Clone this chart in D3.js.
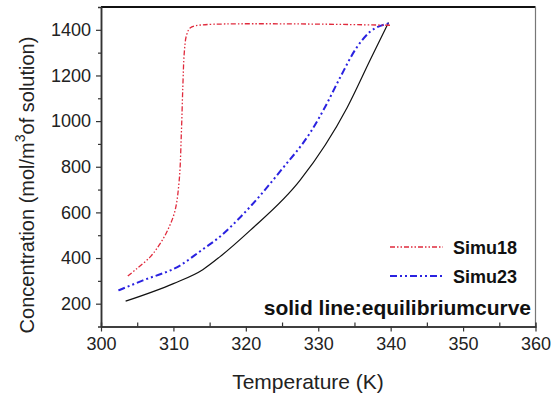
<!DOCTYPE html>
<html>
<head>
<meta charset="utf-8">
<script src="https://cdn.jsdelivr.net/npm/d3@7"></script>
<style>
  body { margin: 0; background: #fff; }
  svg { font-family: "Liberation Sans", Arial, sans-serif; }
</style>
</head>
<body>
<div id="chart-area"></div>
<script>
// values
const simu18 = [
  [303.7, 321], [305, 355], [306.8, 405], [308, 455], [309.1, 515], [310.2, 605],
  [310.8, 741], [311.1, 950], [311.3, 1150], [311.5, 1300], [311.8, 1375],
  [312.3, 1408], [313.5, 1420], [340, 1420]
]
const simu23 = [
  [302.4, 258], [305.8, 302], [311, 369], [313.7, 430], [316.4, 493], [319.3, 581],
  [324.9, 786], [329, 955], [331, 1065], [333, 1190], [335.3, 1322],
  [337.1, 1390], [339.8, 1428]
]
const equilibrium = [
  [303.4, 211], [310, 288], [314.05, 349], [316.4, 405], [320.6, 521],
  [327.5, 741], [334, 1060], [337.2, 1270], [339.7, 1432]
]
const xTicks = [300, 310, 320, 330, 340, 350, 360]
const yTicks = [200, 400, 600, 800, 1000, 1200, 1400]

const MARGIN = {LEFT:101, TOP:7}
const WIDTH = 434.5
const HEIGHT = 319.5

const svg = d3.select("#chart-area").append("svg")
  .attr("width", 552)
  .attr("height", 397)

const g = svg.append("g")
  .attr("transform", `translate(${MARGIN.LEFT},${MARGIN.TOP})`)

const x = d3.scaleLinear().domain([300, 360]).range([0, WIDTH])
const y = d3.scaleLinear().domain([100, 1500]).range([HEIGHT, 0])

// frame top / right
g.append("line").attr("x1", 0).attr("x2", WIDTH).attr("y1", 0).attr("y2", 0)
  .attr("stroke", "#111").attr("stroke-width", 1.8)
g.append("line").attr("x1", WIDTH).attr("x2", WIDTH).attr("y1", 0).attr("y2", HEIGHT)
  .attr("stroke", "#777").attr("stroke-width", 1.2)

// minor ticks
g.append("g").attr("transform", `translate(0,${HEIGHT})`)
  .call(d3.axisBottom(x).tickValues(d3.range(305, 360, 10)).tickSize(-4).tickFormat(""))
g.append("g")
  .call(d3.axisLeft(y).tickValues(d3.range(300, 1500, 200)).tickSize(3).tickFormat(""))

const xAxis = g.append("g").attr("transform", `translate(0,${HEIGHT})`)
  .call(d3.axisBottom(x).tickValues(xTicks).tickSize(5).tickSizeOuter(0).tickPadding(5).tickFormat(d3.format("d")))
const yAxis = g.append("g")
  .call(d3.axisLeft(y).tickValues(yTicks).tickSize(5).tickSizeOuter(0).tickPadding(5).tickFormat(d3.format("d")))

g.selectAll(".domain").attr("stroke", "#333").attr("stroke-width", 1.5)
g.selectAll(".tick line").attr("stroke", "#333").attr("stroke-width", 1.2)
g.selectAll(".tick text").attr("font-size", "18px").attr("fill", "#222")
  .attr("font-family", "Liberation Sans, Arial, sans-serif")
xAxis.selectAll(".tick text").attr("dy", "0.75em")

const line = d3.line()
  .x(d => x(d[0]))
  .y(d => y(d[1]))
  .curve(d3.curveMonotoneX)

g.append("path").datum(equilibrium).attr("d", line)
  .attr("fill", "none").attr("stroke", "#111").attr("stroke-width", 1.2)
g.append("path").datum(simu23).attr("d", line)
  .attr("fill", "none").attr("stroke", "#2a22e0").attr("stroke-width", 2)
  .attr("stroke-dasharray", "7,3,2,3,2,3")
g.append("path").datum(simu18).attr("d",
    d3.line().x(d => x(d[0])).y(d => y(d[1])).curve(d3.curveCatmullRom.alpha(0.5)))
  .attr("fill", "none").attr("stroke", "#e02a3c").attr("stroke-width", 1.3)
  .attr("stroke-dasharray", "5,2,1.5,2,1.5,2")

// legend
const legend = [
  {name: "Simu18", color: "#e02a3c", width: 1.3, dash: "5,2,1.5,2,1.5,2"},
  {name: "Simu23", color: "#2a22e0", width: 2, dash: "7,3,2,3,2,3"}
]
legend.forEach((l, i) => {
  const row = svg.append("g").attr("transform", `translate(390,${247 + i * 29})`)
  row.append("line").attr("x1", 0).attr("x2", 53)
    .attr("stroke", l.color).attr("stroke-width", l.width).attr("stroke-dasharray", l.dash)
  row.append("text").attr("x", 63).attr("y", 7)
    .attr("font-size", "18px").attr("font-weight", "bold").attr("fill", "#111")
    .text(l.name)
})
svg.append("text").attr("x", 531).attr("y", 315).attr("text-anchor", "end")
  .attr("font-size", "21px").attr("font-weight", "bold").attr("fill", "#111")
  .text("solid line:equilibriumcurve")

// axis labels
svg.append("text").attr("x", 308).attr("y", 389).attr("text-anchor", "middle")
  .attr("font-size", "21px").attr("fill", "#222")
  .text("Temperature (K)")

const yl = svg.append("text").attr("transform", "translate(34,185) rotate(-90)")
  .attr("text-anchor", "middle").attr("font-size", "20px").attr("fill", "#222")
yl.append("tspan").text("Concentration (mol/m")
yl.append("tspan").attr("font-size", "14px").attr("dy", "-9").text("3")
yl.append("tspan").attr("dy", "9").text("of solution)")
</script>
</body>
</html>
